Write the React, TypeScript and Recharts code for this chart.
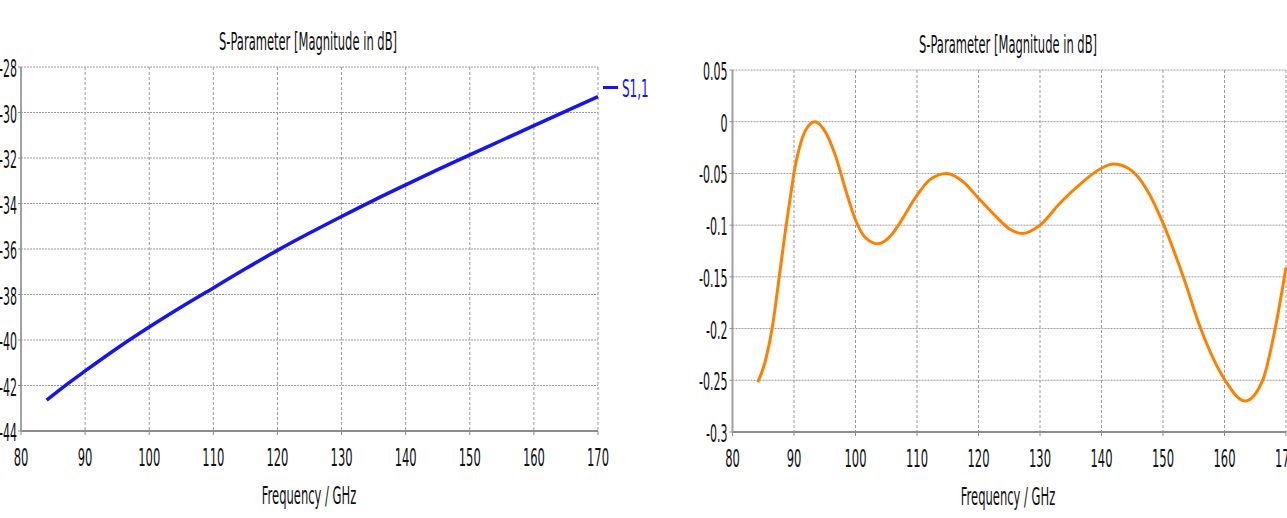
import { CartesianGrid, Legend, Line, LineChart, XAxis, YAxis } from "recharts";

// frequency axis
const freqTicks = [80, 90, 100, 110, 120, 130, 140, 150, 160, 170];

// left plot: S1,1
const s11Ticks = [-44, -42, -40, -38, -36, -34, -32, -30, -28];
const s11Freq = [84, 87, 90, 95, 100, 105, 110, 115, 120, 125, 130, 135, 140, 145, 150, 155, 160, 165, 170];
const s11Mag = [-42.64, -41.98, -41.36, -40.36, -39.43, -38.55, -37.71, -36.87, -36.06, -35.3, -34.57, -33.86, -33.18, -32.51, -31.86, -31.22, -30.58, -29.94, -29.3];

// right plot
const s21Ticks = [-0.3, -0.25, -0.2, -0.15, -0.1, -0.05, 0, 0.05];
const s21Freq = [
  84.1, 85.4, 86.5, 87.6, 88.7, 89.5, 90.1, 90.8, 91.9, 93.4, 95.2, 96.8, 98.4, 100.0, 101.6,
  103.6, 105.9, 107.2, 109.9, 112.1, 114.8, 117.5, 120.0, 122.9, 125.1, 127.2, 130.0, 133.2,
  136.4, 140.0, 141.9, 144.6, 147.4, 150.0, 153.3, 156.0, 160.1, 163.3, 166.2, 168.3, 170.0
];
const s21Mag = [
  -0.252, -0.23, -0.198, -0.15, -0.101, -0.069, -0.046, -0.027, -0.008, 0.0, -0.011, -0.034, -0.066, -0.095, -0.112,
  -0.118, -0.109, -0.098, -0.072, -0.056, -0.05, -0.058, -0.074, -0.092, -0.104, -0.108, -0.1, -0.079,
  -0.061, -0.045, -0.041, -0.046, -0.066, -0.098, -0.15, -0.198, -0.25, -0.27, -0.25, -0.198, -0.141
];

const s11Data = s11Freq.map((f, i) => ({ f, v: s11Mag[i] }));
const s21Data = s21Freq.map((f, i) => ({ f, v: s21Mag[i] }));

const FONT = '"DejaVu Sans", Verdana, sans-serif';
const SQUEEZE = 0.48;
const TEXT = "#111";
const GRID = "#9a9a9a";
const FRAME = "#8c8c8c";

function XTick(props: any) {
  const { x, y, payload } = props;
  return (
    <text
      transform={`translate(${x},${y + 29}) scale(${SQUEEZE},1)`}
      textAnchor="middle"
      fontFamily={FONT}
      fontSize={24}
      fill={TEXT}
    >
      {payload.value}
    </text>
  );
}

function YTick(props: any) {
  const { x, y, payload } = props;
  return (
    <text
      transform={`translate(${x},${y + 10}) scale(0.46,1)`}
      textAnchor="end"
      fontFamily={FONT}
      fontSize={24}
      fill={TEXT}
    >
      {payload.value}
    </text>
  );
}

function Label({ text, cx, top }: { text: string; cx: number; top: number }) {
  return (
    <div
      style={{
        position: "absolute",
        left: cx,
        top,
        fontFamily: FONT,
        fontSize: 24,
        lineHeight: "24px",
        color: TEXT,
        whiteSpace: "nowrap",
        transform: `translateX(-50%) scaleX(${SQUEEZE})`
      }}
    >
      {text}
    </div>
  );
}

function S11Legend() {
  return (
    <div style={{ position: "relative", width: 60, height: 26 }}>
      <div style={{ position: "absolute", left: 0, top: 9, width: 15, height: 3, background: "#1414f5" }} />
      <span
        style={{
          position: "absolute",
          left: 19,
          top: 0,
          fontFamily: FONT,
          fontSize: 25,
          lineHeight: "24px",
          color: "#1414f5",
          whiteSpace: "nowrap",
          transform: `scaleX(${SQUEEZE})`,
          transformOrigin: "left"
        }}
      >
        S1,1
      </span>
    </div>
  );
}

export default function App() {
  return (
    <div style={{ position: "absolute", left: 0, top: 0, width: 1287, height: 518, background: "#fff", overflow: "hidden" }}>
      <Label text="S-Parameter [Magnitude in dB]" cx={308} top={30} />
      <Label text="Frequency / GHz" cx={309} top={484} />
      <Label text="S-Parameter [Magnitude in dB]" cx={1008} top={33} />
      <Label text="Frequency / GHz" cx={1008} top={485} />

      <div style={{ position: "absolute", left: 0, top: 0 }}>
        <LineChart width={640} height={518} data={s11Data} margin={{ top: 67, right: 42, bottom: 57, left: 0 }}>
          <CartesianGrid horizontal={false} stroke={GRID} strokeDasharray="3 2" />
          <CartesianGrid vertical={false} stroke={GRID} strokeDasharray="2 1" />
          <XAxis
            dataKey="f"
            type="number"
            domain={[80, 170]}
            ticks={freqTicks}
            interval={0}
            height={30}
            tickSize={4}
            tickMargin={2}
            stroke={FRAME}
            axisLine={{ stroke: FRAME, strokeWidth: 2 }}
            tick={<XTick />}
          />
          <XAxis xAxisId="top" orientation="top" type="number" domain={[80, 170]} height={0} tick={false} tickLine={false} axisLine={{ stroke: FRAME, strokeWidth: 2 }} />
          <YAxis
            type="number"
            domain={[-44, -28]}
            ticks={s11Ticks}
            interval={0}
            width={21}
            tickSize={3}
            tickMargin={1}
            stroke={FRAME}
            axisLine={{ stroke: "#a0a0a0", strokeWidth: 2 }}
            tick={<YTick />}
          />
          <YAxis yAxisId="right" orientation="right" type="number" domain={[-44, -28]} width={0} tick={false} tickLine={false} axisLine={{ stroke: "#a8a8a8", strokeWidth: 1 }} />
          <Legend
            layout="horizontal"
            verticalAlign="middle"
            align="center"
            wrapperStyle={{ left: 603, top: 77, width: 60, height: 26 }}
            content={() => <S11Legend />}
          />
          <Line type="monotone" dataKey="v" name="S1,1" stroke="#1414f5" strokeWidth={3.5} dot={false} isAnimationActive={false} />
        </LineChart>
      </div>

      <div style={{ position: "absolute", left: 660, top: 0 }}>
        <LineChart width={627} height={518} data={s21Data} margin={{ top: 70, right: 1, bottom: 56, left: 0 }}>
          <CartesianGrid horizontal={false} stroke={GRID} strokeDasharray="3 2" />
          <CartesianGrid vertical={false} stroke={GRID} strokeDasharray="2 1" />
          <XAxis
            dataKey="f"
            type="number"
            domain={[80, 170]}
            ticks={freqTicks}
            interval={0}
            height={30}
            tickSize={4}
            tickMargin={2}
            stroke={FRAME}
            axisLine={{ stroke: FRAME, strokeWidth: 2 }}
            tick={<XTick />}
          />
          <XAxis xAxisId="top" orientation="top" type="number" domain={[80, 170]} height={0} tick={false} tickLine={false} axisLine={{ stroke: FRAME, strokeWidth: 2 }} />
          <YAxis
            type="number"
            domain={[-0.3, 0.05]}
            ticks={s21Ticks}
            interval={0}
            width={72.5}
            tickSize={3}
            tickMargin={2}
            stroke={FRAME}
            axisLine={{ stroke: "#a0a0a0", strokeWidth: 2 }}
            tick={<YTick />}
          />
          <YAxis yAxisId="right" orientation="right" type="number" domain={[-0.3, 0.05]} width={0} tick={false} tickLine={false} axisLine={{ stroke: "#a8a8a8", strokeWidth: 1 }} />
          <Line type="monotone" dataKey="v" stroke="#ff8000" strokeWidth={3} dot={false} isAnimationActive={false} />
        </LineChart>
      </div>
    </div>
  );
}
